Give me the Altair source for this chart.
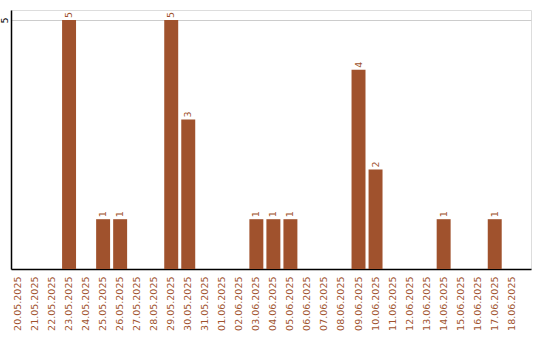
import altair as alt
import pandas as pd

dates = ["20.05.2025", "21.05.2025", "22.05.2025", "23.05.2025", "24.05.2025",
         "25.05.2025", "26.05.2025", "27.05.2025", "28.05.2025", "29.05.2025",
         "30.05.2025", "31.05.2025", "01.06.2025", "02.06.2025", "03.06.2025",
         "04.06.2025", "05.06.2025", "06.06.2025", "07.06.2025", "08.06.2025",
         "09.06.2025", "10.06.2025", "11.06.2025", "12.06.2025", "13.06.2025",
         "14.06.2025", "15.06.2025", "16.06.2025", "17.06.2025", "18.06.2025"]
counts = [0, 0, 0, 5, 0, 1, 1, 0, 0, 5, 3, 0, 0, 0, 1, 1, 1, 0, 0, 0,
          4, 2, 0, 0, 0, 1, 0, 0, 1, 0]

df = pd.DataFrame({"date": dates, "count": counts})
COLOR = "#a0522d"
FONT = "DejaVu Sans"
FS = 9.5

x = alt.X("date:N", sort=dates, title=None,
          scale=alt.Scale(paddingInner=0.18, paddingOuter=0.36, align=0),
          axis=alt.Axis(labelAngle=-90, labelAlign="right", labelBaseline="middle",
                        labelColor=COLOR, labelFont=FONT, labelFontSize=FS,
                        labelPadding=7, ticks=False, domainColor="#000000",
                        domainWidth=1.5, grid=False))
y = alt.Y("count:Q", title=None,
          scale=alt.Scale(domain=[0, 5.2], nice=False, zero=True),
          axis=alt.Axis(values=[5], labelAngle=-90, labelAlign="center",
                        labelBaseline="bottom", labelFont=FONT, labelFontSize=FS,
                        labelColor="#000000", labelPadding=2, ticks=False,
                        domainColor="#000000", domainWidth=1.5,
                        grid=True, gridColor="#cccccc"))

bars = alt.Chart(df).mark_bar(color=COLOR).encode(x=x, y=y)
labels = alt.Chart(df).transform_filter("datum.count > 0").mark_text(
    angle=270, align="left", baseline="middle", dx=2, color=COLOR,
    font=FONT, fontSize=FS
).encode(x=alt.X("date:N", sort=dates), y="count:Q", text="count:Q")

chart = (bars + labels).properties(
    width=520, height=259,
    padding={"left": 11, "top": 10, "right": 9, "bottom": 71},
    autosize=alt.AutoSizeParams(type="none"),
).configure_view(stroke=None).configure(background="#ffffff")

chart.save("out.html", embed_options={"renderer": "svg", "actions": False})
